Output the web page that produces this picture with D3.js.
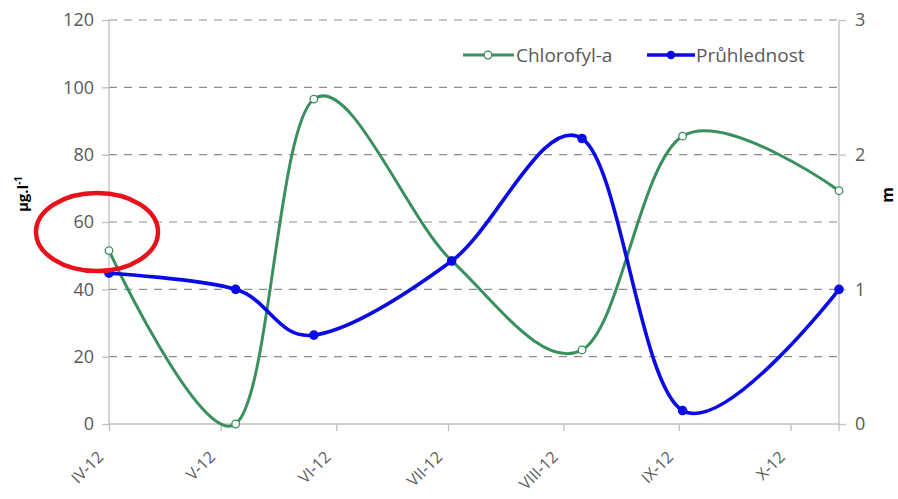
<!DOCTYPE html>
<html>
<head>
<meta charset="utf-8">
<script src="https://cdn.jsdelivr.net/npm/d3@7"></script>
<style>
  body { margin: 0; background: #fff; }
  svg { display: block; font-family: "Open Sans", sans-serif; }
</style>
</head>
<body>
<svg id="chart" width="898" height="499"></svg>
<script>
// sampling dates and values
var dates = ["2012-04-02", "2012-05-06", "2012-05-27", "2012-07-03", "2012-08-07", "2012-09-03", "2012-10-15"];
var chlorofyl = [51.5, 0, 96.5, 48.5, 22, 85.5, 69.3];   // ug/l, left axis
var pruhlednost = [1.12, 1.0, 0.66, 1.21, 2.12, 0.1, 1.0]; // m, right axis
var monthLabels = ["IV-12", "V-12", "VI-12", "VII-12", "VIII-12", "IX-12", "X-12"];
var leftTicks = [0, 20, 40, 60, 80, 100, 120];
var rightTicks = [0, 1, 2, 3];

var parse = d3.timeParse("%Y-%m-%d");
var when = dates.map(parse);

var svg = d3.select("#chart");
var plotLeft = 109, plotRight = 839, plotTop = 20, plotBottom = 424;

var x = d3.scaleTime()
  .domain([when[0], when[when.length - 1]])
  .range([plotLeft, plotRight]);
var yL = d3.scaleLinear().domain([0, 120]).range([plotBottom, plotTop]);
var yR = d3.scaleLinear().domain([0, 3]).range([plotBottom, plotTop]);

// ~~~~ grid ~~~~
svg.append("g").selectAll("line")
  .data(leftTicks.slice(1))
  .enter().append("line")
  .attr("x1", plotLeft).attr("x2", plotRight)
  .attr("y1", d => yL(d)).attr("y2", d => yL(d))
  .attr("stroke", "#8c8c8c")
  .attr("stroke-width", 1.2)
  .attr("stroke-dasharray", "8,7");

// ~~~~ axes ~~~~
var axisColor = "#bfbfbf";
var textColor = "#595959";

var gL = svg.append("g").attr("transform", "translate(" + plotLeft + ",0)")
  .call(d3.axisLeft(yL).tickValues(leftTicks).tickSize(7).tickPadding(8));
var gR = svg.append("g").attr("transform", "translate(" + plotRight + ",0)")
  .call(d3.axisRight(yR).tickValues(rightTicks).tickFormat(d3.format("d")).tickSize(7).tickPadding(9));

// x axis ticks: monthly from first sample
var monthTicks = monthLabels.map((m, i) => d3.timeMonth.offset(when[0], i));
var gX = svg.append("g").attr("transform", "translate(0," + plotBottom + ")")
  .call(d3.axisBottom(x).tickValues(monthTicks).tickSize(7)
    .tickFormat((d, i) => monthLabels[i]));
// end tick at right edge
svg.append("line")
  .attr("x1", plotRight).attr("x2", plotRight).attr("y1", plotBottom).attr("y2", plotBottom + 7)
  .attr("stroke", axisColor).attr("stroke-width", 1.3);

[gL, gR, gX].forEach(function (g) {
  g.select(".domain").attr("stroke", axisColor).attr("stroke-width", 1.3);
  g.selectAll(".tick line").attr("stroke", axisColor).attr("stroke-width", 1.3);
  g.selectAll("text").attr("fill", textColor).style("font-size", "18px")
    .style("font-family", "'Open Sans', sans-serif");
});
gL.select(".domain").attr("d", "M0," + plotBottom + "V" + plotTop);
gR.select(".domain").attr("d", "M0," + plotBottom + "V" + plotTop);
gX.select(".domain").attr("d", "M" + plotLeft + ",0H" + plotRight);

gX.selectAll(".tick text")
  .style("font-size", "16px")
  .attr("text-anchor", "end")
  .attr("dy", "0.35em")
  .attr("transform", "translate(-9,30) rotate(-45)")
  .attr("y", 0).attr("x", 0);

// axis titles
svg.append("text")
  .attr("transform", "translate(28,194) rotate(-90)")
  .attr("text-anchor", "middle")
  .style("font-size", "15px").style("font-weight", "bold").attr("fill", "#000")
  .html('µg.l<tspan dy="-6" font-size="10">-1</tspan>');
svg.append("text")
  .attr("transform", "translate(893,195) rotate(-90)")
  .attr("text-anchor", "middle")
  .style("font-size", "16px").style("font-weight", "bold").attr("fill", "#000")
  .text("m");

// ~~~~ series ~~~~
var green = "#3a8f5f";
var blue = "#0a0ae6";
var curve = d3.curveCardinal.tension(0);

var chlData = when.map((d, i) => ({ d: d, v: chlorofyl[i] }));
var pruData = when.map((d, i) => ({ d: d, v: pruhlednost[i] }));

svg.append("path")
  .datum(chlData)
  .attr("fill", "none").attr("stroke", green).attr("stroke-width", 3)
  .attr("d", d3.line().x(d => x(d.d)).y(d => yL(d.v)).curve(curve));
svg.append("g").selectAll("circle")
  .data(chlData).enter().append("circle")
  .attr("cx", d => x(d.d)).attr("cy", d => yL(d.v)).attr("r", 3.8)
  .attr("fill", "#fff").attr("stroke", green).attr("stroke-width", 1.3);

svg.append("path")
  .datum(pruData)
  .attr("fill", "none").attr("stroke", blue).attr("stroke-width", 3.6)
  .attr("d", d3.line().x(d => x(d.d)).y(d => yR(d.v)).curve(curve));
svg.append("g").selectAll("circle")
  .data(pruData).enter().append("circle")
  .attr("cx", d => x(d.d)).attr("cy", d => yR(d.v)).attr("r", 4.8)
  .attr("fill", blue);

// ~~~~ legend ~~~~
var legend = svg.append("g").attr("transform", "translate(0,55)");
legend.append("line").attr("x1", 463).attr("x2", 514).attr("stroke", green).attr("stroke-width", 3);
legend.append("circle").attr("cx", 488).attr("r", 3.8).attr("fill", "#fff").attr("stroke", green).attr("stroke-width", 1.3);
legend.append("text").attr("x", 516).attr("dy", "0.35em").text("Chlorofyl-a")
  .attr("fill", textColor).style("font-size", "19px");
legend.append("line").attr("x1", 647).attr("x2", 695).attr("stroke", blue).attr("stroke-width", 3.6);
legend.append("circle").attr("cx", 671).attr("r", 4.2).attr("fill", blue);
legend.append("text").attr("x", 696).attr("dy", "0.35em").text("Průhlednost")
  .attr("fill", textColor).style("font-size", "19px");

// red highlight ellipse
svg.append("ellipse")
  .attr("cx", 97).attr("cy", 232).attr("rx", 61).attr("ry", 39)
  .attr("fill", "none").attr("stroke", "#e8101a").attr("stroke-width", 4.5);
</script>
</body>
</html>
